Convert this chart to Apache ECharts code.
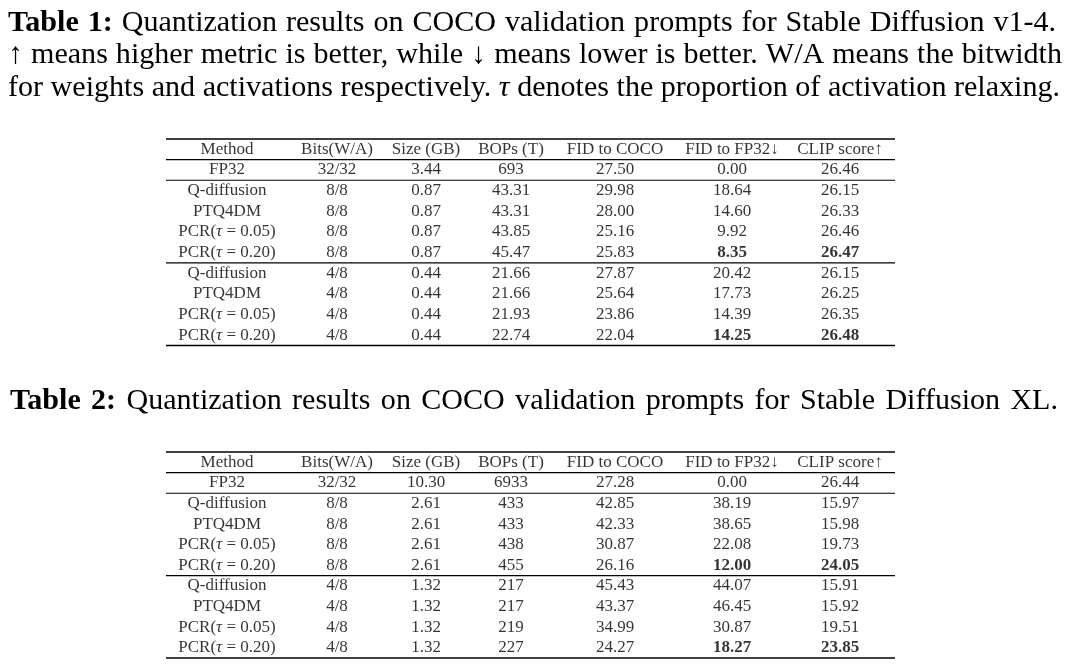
<!DOCTYPE html>
<html lang="en">
<head>
<meta charset="UTF-8">
<title>Quantization results</title>
<script src="https://cdn.jsdelivr.net/npm/echarts@6/dist/echarts.min.js"></script>
<style>
  html, body { margin: 0; padding: 0; background: #fff; }
  #main { width: 1068px; height: 665px; }
</style>
</head>
<body>
<div id="main"></div>
<script>
// captions
const caption1 = [
  'Table 1: Quantization results on COCO validation prompts for Stable Diffusion v1-4.',
  '↑ means higher metric is better, while ↓ means lower is better. W/A means the bitwidth',
  'for weights and activations respectively. τ denotes the proportion of activation relaxing.'
];
const caption2 = 'Table 2: Quantization results on COCO validation prompts for Stable Diffusion XL.';

// table columns / rows
const headers = ['Method', 'Bits(W/A)', 'Size (GB)', 'BOPs (T)', 'FID to COCO', 'FID to FP32↓', 'CLIP score↑'];
const methods = ['FP32', 'Q-diffusion', 'PTQ4DM', 'PCR(τ = 0.05)', 'PCR(τ = 0.20)',
                 'Q-diffusion', 'PTQ4DM', 'PCR(τ = 0.05)', 'PCR(τ = 0.20)'];
const bits = ['32/32', '8/8', '8/8', '8/8', '8/8', '4/8', '4/8', '4/8', '4/8'];

// Table 1: Stable Diffusion v1-4
const size1 = ['3.44', '0.87', '0.87', '0.87', '0.87', '0.44', '0.44', '0.44', '0.44'];
const bops1 = ['693', '43.31', '43.31', '43.85', '45.47', '21.66', '21.66', '21.93', '22.74'];
const fidCoco1 = ['27.50', '29.98', '28.00', '25.16', '25.83', '27.87', '25.64', '23.86', '22.04'];
const fidFp1 = ['0.00', '18.64', '14.60', '9.92', '8.35', '20.42', '17.73', '14.39', '14.25'];
const clip1 = ['26.46', '26.15', '26.33', '26.46', '26.47', '26.15', '26.25', '26.35', '26.48'];

// Table 2: Stable Diffusion XL
const size2 = ['10.30', '2.61', '2.61', '2.61', '2.61', '1.32', '1.32', '1.32', '1.32'];
const bops2 = ['6933', '433', '433', '438', '455', '217', '217', '219', '227'];
const fidCoco2 = ['27.28', '42.85', '42.33', '30.87', '26.16', '45.43', '43.37', '34.99', '24.27'];
const fidFp2 = ['0.00', '38.19', '38.65', '22.08', '12.00', '44.07', '46.45', '30.87', '18.27'];
const clip2 = ['26.44', '15.97', '15.98', '19.73', '24.05', '15.91', '15.92', '19.51', '23.85'];

// best results (bold): row indices into the data rows, column indices
const boldRows = [4, 8];
const boldCols = [5, 6];

// layout
const FONT = '"Liberation Serif", "DejaVu Serif", serif';
const TABLE_FONT_SIZE = 17;
const colX = [227, 337, 426, 511, 615, 732, 840];
const ruleLeft = 166, ruleRight = 895;
const tables = [
  { top: 139, height: 206.5, cols: [methods, bits, size1, bops1, fidCoco1, fidFp1, clip1] },
  { top: 452, height: 206, cols: [methods, bits, size2, bops2, fidCoco2, fidFp2, clip2] }
];

const chart = echarts.init(document.getElementById('main'));

// caption layout: justify each line between x0 and x1
const ctx = document.createElement('canvas').getContext('2d');
function splitWords(line) {
  const bold = line.startsWith('Table') ? 2 : 0;
  return line.split(' ').map((t, i) => ({ text: t, bold: i < bold, italic: t === 'τ' }));
}
function measure(w, size) {
  ctx.font = (w.italic ? 'italic ' : '') + (w.bold ? 'bold ' : '') + size + 'px ' + FONT;
  return ctx.measureText(w.text).width;
}
function fitSize(line, width) {
  const words = splitWords(line);
  const unit = words.reduce((s, w) => s + measure(w, 1), 0) + (words.length - 1) * 0.25;
  return width / unit;
}
function justify(line, x0, x1, y, size) {
  const words = splitWords(line);
  const widths = words.map(w => measure(w, size));
  const total = widths.reduce((a, b) => a + b, 0);
  const gap = (x1 - x0 - total) / (words.length - 1);
  let x = x0;
  return words.map((w, i) => {
    const el = {
      type: 'text', x: x, y: y, silent: true,
      style: {
        text: w.text, fill: '#000', fontFamily: FONT, fontSize: size,
        fontWeight: w.bold ? 'bold' : 'normal', fontStyle: w.italic ? 'italic' : 'normal',
        verticalAlign: 'middle'
      }
    };
    x += widths[i] + gap;
    return el;
  });
}

const capSize = Math.min(
  fitSize(caption1[0], 1048), fitSize(caption1[1], 1054), fitSize(caption1[2], 1052), fitSize(caption2, 1048)
);
const graphics = [];
graphics.push(...justify(caption1[0], 8, 1056, 23, capSize));
graphics.push(...justify(caption1[1], 8, 1062, 55.5, capSize));
graphics.push(...justify(caption1[2], 8, 1060, 88, capSize));
graphics.push(...justify(caption2, 10, 1058, 401.5, capSize));

// booktabs-style rules
tables.forEach(t => {
  const h = t.height / 10;
  [[0, 1.5], [1, 1.1], [2, 1.1], [6, 1.1], [10, 1.5]].forEach(([k, lw]) => {
    const y = t.top + k * h;
    graphics.push({
      type: 'line', silent: true,
      shape: { x1: ruleLeft, y1: y, x2: ruleRight, y2: y },
      style: { stroke: '#000', lineWidth: lw }
    });
  });
});

const rowNames = ['header', '0', '1', '2', '3', '4', '5', '6', '7', '8'];

function cellText(s) {
  return s.replace('τ', '{it|τ}');
}

const grids = [], xAxes = [], yAxes = [], series = [];
tables.forEach((t, ti) => {
  grids.push({ left: 0, right: 0, top: t.top, height: t.height });
  xAxes.push({ type: 'value', gridIndex: ti, min: 0, max: 1068, show: false });
  yAxes.push({ type: 'category', gridIndex: ti, data: rowNames, inverse: true, show: false });
  const data = [];
  headers.forEach((hd, c) => data.push({ name: hd, value: [colX[c], 0] }));
  t.cols.forEach((col, c) => {
    col.forEach((v, r) => {
      const item = { name: v, value: [colX[c], r + 1] };
      if (boldRows.includes(r) && boldCols.includes(c)) item.label = { fontWeight: 'bold' };
      data.push(item);
    });
  });
  series.push({
    type: 'scatter', xAxisIndex: ti, yAxisIndex: ti,
    symbolSize: 0, silent: true, data: data,
    label: {
      show: true, position: 'inside', align: 'center', verticalAlign: 'middle',
      color: '#000', fontFamily: FONT, fontSize: TABLE_FONT_SIZE,
      formatter: p => cellText(p.name),
      rich: { it: { fontStyle: 'italic', fontFamily: FONT, fontSize: TABLE_FONT_SIZE, color: '#000' } }
    }
  });
});

chart.setOption({
  backgroundColor: '#fff',
  animation: false,
  grid: grids,
  xAxis: xAxes,
  yAxis: yAxes,
  series: series,
  graphic: graphics
});
</script>
</body>
</html>
